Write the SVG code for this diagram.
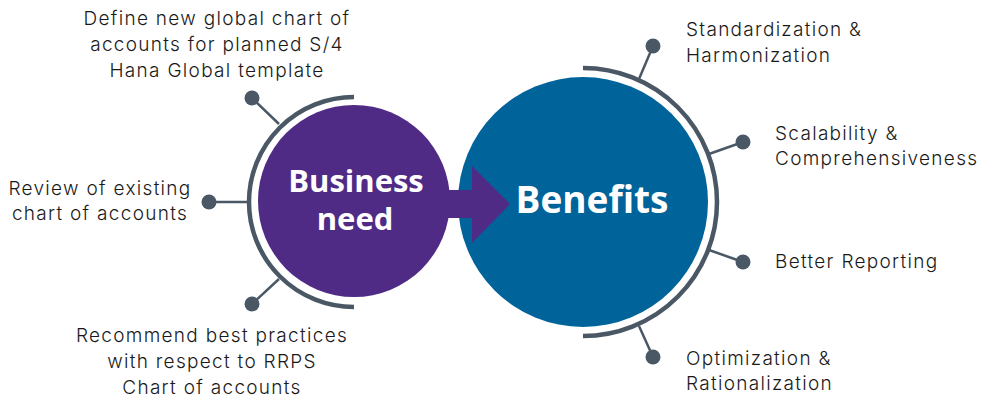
<svg xmlns="http://www.w3.org/2000/svg" width="991" height="398" viewBox="0 0 991 398">
<style>
.lbl{font-family:Inter,"Noto Sans",sans-serif;font-size:19px;font-weight:300;letter-spacing:1.3px;fill:#1a1a1a}
.mid{text-anchor:middle}
.big{font-family:"Open Sans","Noto Sans",sans-serif;font-weight:bold;fill:#ffffff;text-anchor:middle}
.arc{fill:none;stroke:#4A5866;stroke-width:4.5}
.con{stroke:#4A5866;stroke-width:2.5;fill:none}
.dot{fill:#4A5866}
</style>
<rect width="991" height="398" fill="#ffffff"/>
<g id="benefits">
<circle cx="583" cy="202" r="125" fill="#00639A"/>
<path class="arc" d="M583 68 A134 134 0 0 1 583 336"/>
</g>
<g id="business-need">
<circle cx="354" cy="201" r="96" fill="#502B86"/>
<path class="arc" d="M354 97 A105 105 0 0 0 354 307"/>
</g>
<g id="arrow">
<polygon points="440,190 472,190 472,166 510,204 472,243 472,218 440,218" fill="#502B86"/>
</g>
<g id="center-labels">
<text class="big" x="356" y="192" font-size="31">Business</text>
<text class="big" x="355" y="230" font-size="31">need</text>
<text class="big" x="592" y="213" font-size="37">Benefits</text>
</g>
<g id="connectors">
<line class="con" x1="252" y1="98" x2="279" y2="124"/>
<line class="con" x1="209" y1="202" x2="248" y2="202"/>
<line class="con" x1="252" y1="304" x2="279" y2="279"/>
<line class="con" x1="653" y1="46" x2="639" y2="79"/>
<line class="con" x1="743" y1="142" x2="709" y2="154"/>
<line class="con" x1="743" y1="262" x2="709" y2="250"/>
<line class="con" x1="653" y1="357" x2="639" y2="326"/>
<circle class="dot" cx="252" cy="98" r="7.5"/>
<circle class="dot" cx="209" cy="202" r="7.5"/>
<circle class="dot" cx="252" cy="304" r="7.5"/>
<circle class="dot" cx="653" cy="46" r="7.5"/>
<circle class="dot" cx="743" cy="142" r="7.5"/>
<circle class="dot" cx="743" cy="262" r="7.5"/>
<circle class="dot" cx="653" cy="357" r="7.5"/>
</g>
<g id="label-define">
<text class="lbl mid" x="217" y="25">Define new global chart of</text>
<text class="lbl mid" x="217" y="51">accounts for planned S/4</text>
<text class="lbl mid" x="217" y="77">Hana Global template</text>
</g>
<g id="label-review">
<text class="lbl mid" x="100" y="195">Review of existing</text>
<text class="lbl mid" x="100" y="220">chart of accounts</text>
</g>
<g id="label-recommend">
<text class="lbl mid" x="212" y="342">Recommend best practices</text>
<text class="lbl mid" x="212" y="368">with respect to RRPS</text>
<text class="lbl mid" x="212" y="394">Chart of accounts</text>
</g>
<g id="label-standardization">
<text class="lbl" x="686" y="36">Standardization &amp;</text>
<text class="lbl" x="686" y="62">Harmonization</text>
</g>
<g id="label-scalability">
<text class="lbl" x="775" y="140">Scalability &amp;</text>
<text class="lbl" x="775" y="165">Comprehensiveness</text>
</g>
<g id="label-reporting">
<text class="lbl" x="775" y="268">Better Reporting</text>
</g>
<g id="label-optimization">
<text class="lbl" x="686" y="365">Optimization &amp;</text>
<text class="lbl" x="686" y="390">Rationalization</text>
</g>
</svg>
